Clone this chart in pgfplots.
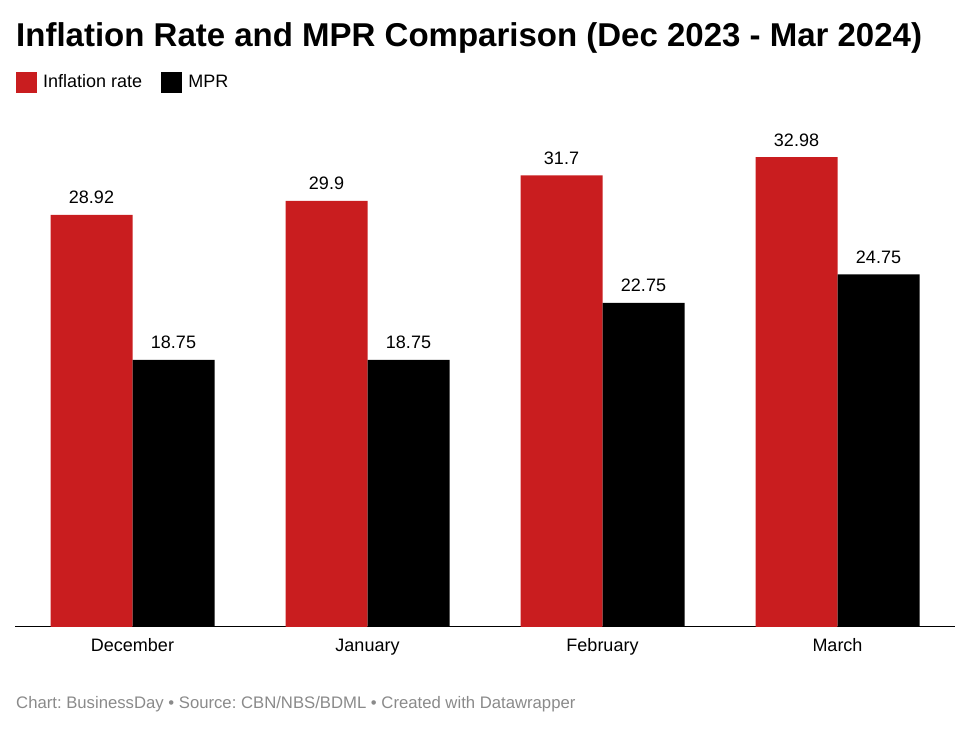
\documentclass[border=0pt]{standalone}
\usepackage{pgfplots}
\pgfplotsset{compat=1.18}
\usepackage{fontspec}
\setmainfont{Liberation Sans}
\definecolor{infl}{HTML}{C91D1F}
\definecolor{foot}{HTML}{8A8A8A}
\frenchspacing

\begin{document}
\begin{tikzpicture}[x=1pt,y=1pt]
\useasboundingbox (0,0) rectangle (969,730);
\node[anchor=base west, inner sep=0, font=\fontsize{33}{36}\selectfont\bfseries]
  at (16,683) {Inflation Rate and MPR Comparison (Dec 2023 - Mar 2024)};
\node[anchor=base west, inner sep=0, text=foot, font=\fontsize{16.7}{20}\selectfont]
  at (16,21) {Chart: BusinessDay • Source: CBN/NBS/BDML • Created with Datawrapper};
\begin{axis}[
    at={(15pt,103pt)}, anchor=south west,
    scale only axis, width=940pt, height=513pt,
    xmin=-0.5, xmax=3.5, ymin=0, ymax=36,
    clip=false,
    axis x line=bottom, axis y line=none,
    axis line style={-, black, line width=1pt},
    xtick={0,1,2,3},
    xticklabels={December,January,February,March},
    major tick length=0pt,
    xticklabel style={anchor=base, yshift=-25pt, inner sep=0, font=\fontsize{18}{20}\selectfont},
    ybar, bar width=82pt,
    /pgf/number format/assume math mode=true,
    /pgf/number format/precision=2,
    nodes near coords,
    every node near coord/.append style={anchor=base, inner sep=0, yshift=11pt,
        text=black, font=\fontsize{18}{20}\selectfont},
    legend columns=2,
    legend style={at={(0,1)}, anchor=south west, xshift=1pt, yshift=21pt,
        draw=none, fill=none, inner sep=0,
        font=\fontsize{18}{20}\selectfont,
        /tikz/every odd column/.append style={column sep=4pt},
        /tikz/every even column/.append style={column sep=17pt}},
    legend image code/.code={\fill[#1] (0pt,-11pt) rectangle (21pt,10pt);},
]
\addplot[fill=infl, draw=none, bar shift=-41pt] coordinates {(0,28.92) (1,29.9) (2,31.7) (3,32.98)};
\addplot[fill=black, draw=none, bar shift=41pt] coordinates {(0,18.75) (1,18.75) (2,22.75) (3,24.75)};
\legend{Inflation rate, MPR}
\end{axis}
\end{tikzpicture}
\end{document}
